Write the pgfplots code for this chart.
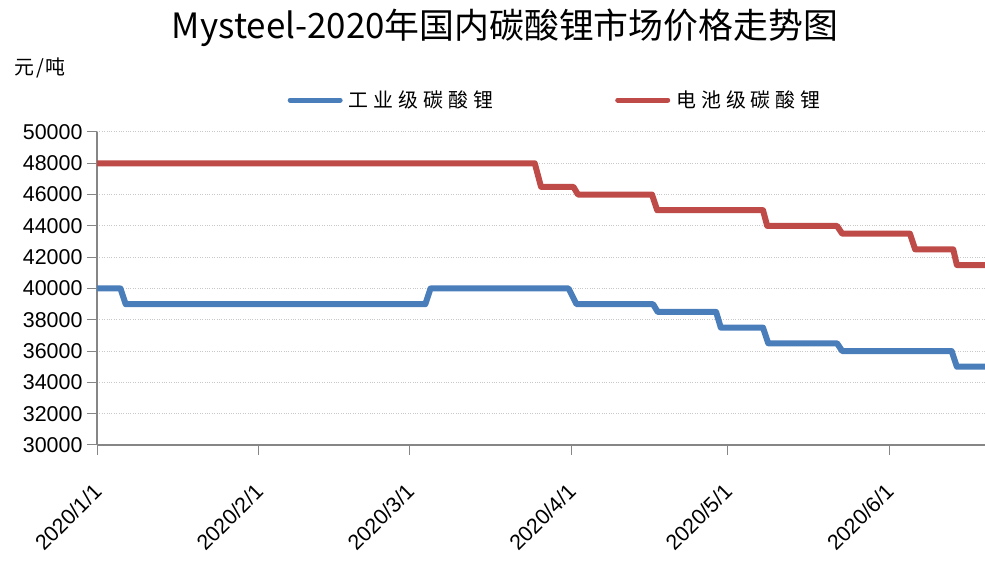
\documentclass[border=0pt]{standalone}
\usepackage{pgfplots}
\pgfplotsset{compat=1.18}
\usepackage{fontspec}
\setmainfont{Liberation Sans}
\newfontfamily\cjk{Noto Sans CJK SC}
\definecolor{bl}{HTML}{4A7EBB}
\definecolor{rd}{HTML}{BE4B48}
\definecolor{ax}{HTML}{868686}
\definecolor{gr}{HTML}{C8C8C8}
\newcommand{\ks}{\kern5bp}
\begin{document}
\begin{tikzpicture}[x=1bp,y=1bp]
\useasboundingbox (0,0) rectangle (985,565);
\node[font=\cjk\fontsize{35}{40}\selectfont] at (505,537) {Mysteel-2020年国内碳酸锂市场价格走势图};
\node[font=\cjk\fontsize{20}{22}\selectfont] at (40,497) {元\kern2bp/\kern2bp吨};
\begin{axis}[
 at={(97bp,120bp)}, anchor=south west,
 scale only axis, width=888bp, height=313bp,
 xmin=0, xmax=170.4, ymin=30000, ymax=50000,
 axis x line=bottom, axis y line=left,
 axis line style={-, ax, line width=1.2bp},
 ytick={30000,32000,...,50000},
 xtick={0,31,60,91,121,152},
 xticklabels={2020/1/1,2020/2/1,2020/3/1,2020/4/1,2020/5/1,2020/6/1},
 /pgf/number format/assume math mode=true,
 /pgf/number format/1000 sep={},
 scaled y ticks=false,
 tick align=outside, major tick length=10bp,
 tick style={ax, line width=1bp},
 tick label style={font=\fontsize{21.5}{24}\selectfont, text=black},
 yticklabel style={xshift=-1bp},
 xticklabel style={xshift=-5bp, yshift=-22bp, rotate=45, anchor=north east},
 ymajorgrids, grid style={gr, dotted, line width=1bp},
 legend style={at={(0.516,1.102)}, anchor=center, draw=none, fill=none,
   font=\cjk\fontsize{20}{24}\selectfont, legend columns=2,
   /tikz/every odd column/.append style={column sep=4bp},
   /tikz/every even column/.append style={column sep=120bp}},
 legend image code/.code={\draw[#1, line width=5bp, line cap=round] (0,0) -- (50bp,0);},
 every axis plot/.append style={line width=6bp, line join=round},
]
\addplot[bl] coordinates {
(0,40000) (4.5,40000) (5.5,39000) (63,39000) (64,40000) (90.5,40000) (92,39000)
(106.7,39000) (107.6,38500) (118.8,38500) (119.7,37500) (127.8,37500) (128.8,36500)
(142,36500) (143,36000) (164,36000) (165,35000) (170.4,35000)};
\addlegendentry{工\ks 业\ks 级\ks 碳\ks 酸\ks 锂}
\addplot[rd] coordinates {
(0,48000) (84,48000) (85.2,46500) (91.4,46500) (92.3,46000) (106.5,46000) (107.5,45000)
(127.8,45000) (128.6,44000) (142,44000) (143,43500) (156,43500) (157,42500)
(164.3,42500) (165,41500) (170.4,41500)};
\addlegendentry{电\ks 池\ks 级\ks 碳\ks 酸\ks 锂}
\end{axis}
\end{tikzpicture}
\end{document}
